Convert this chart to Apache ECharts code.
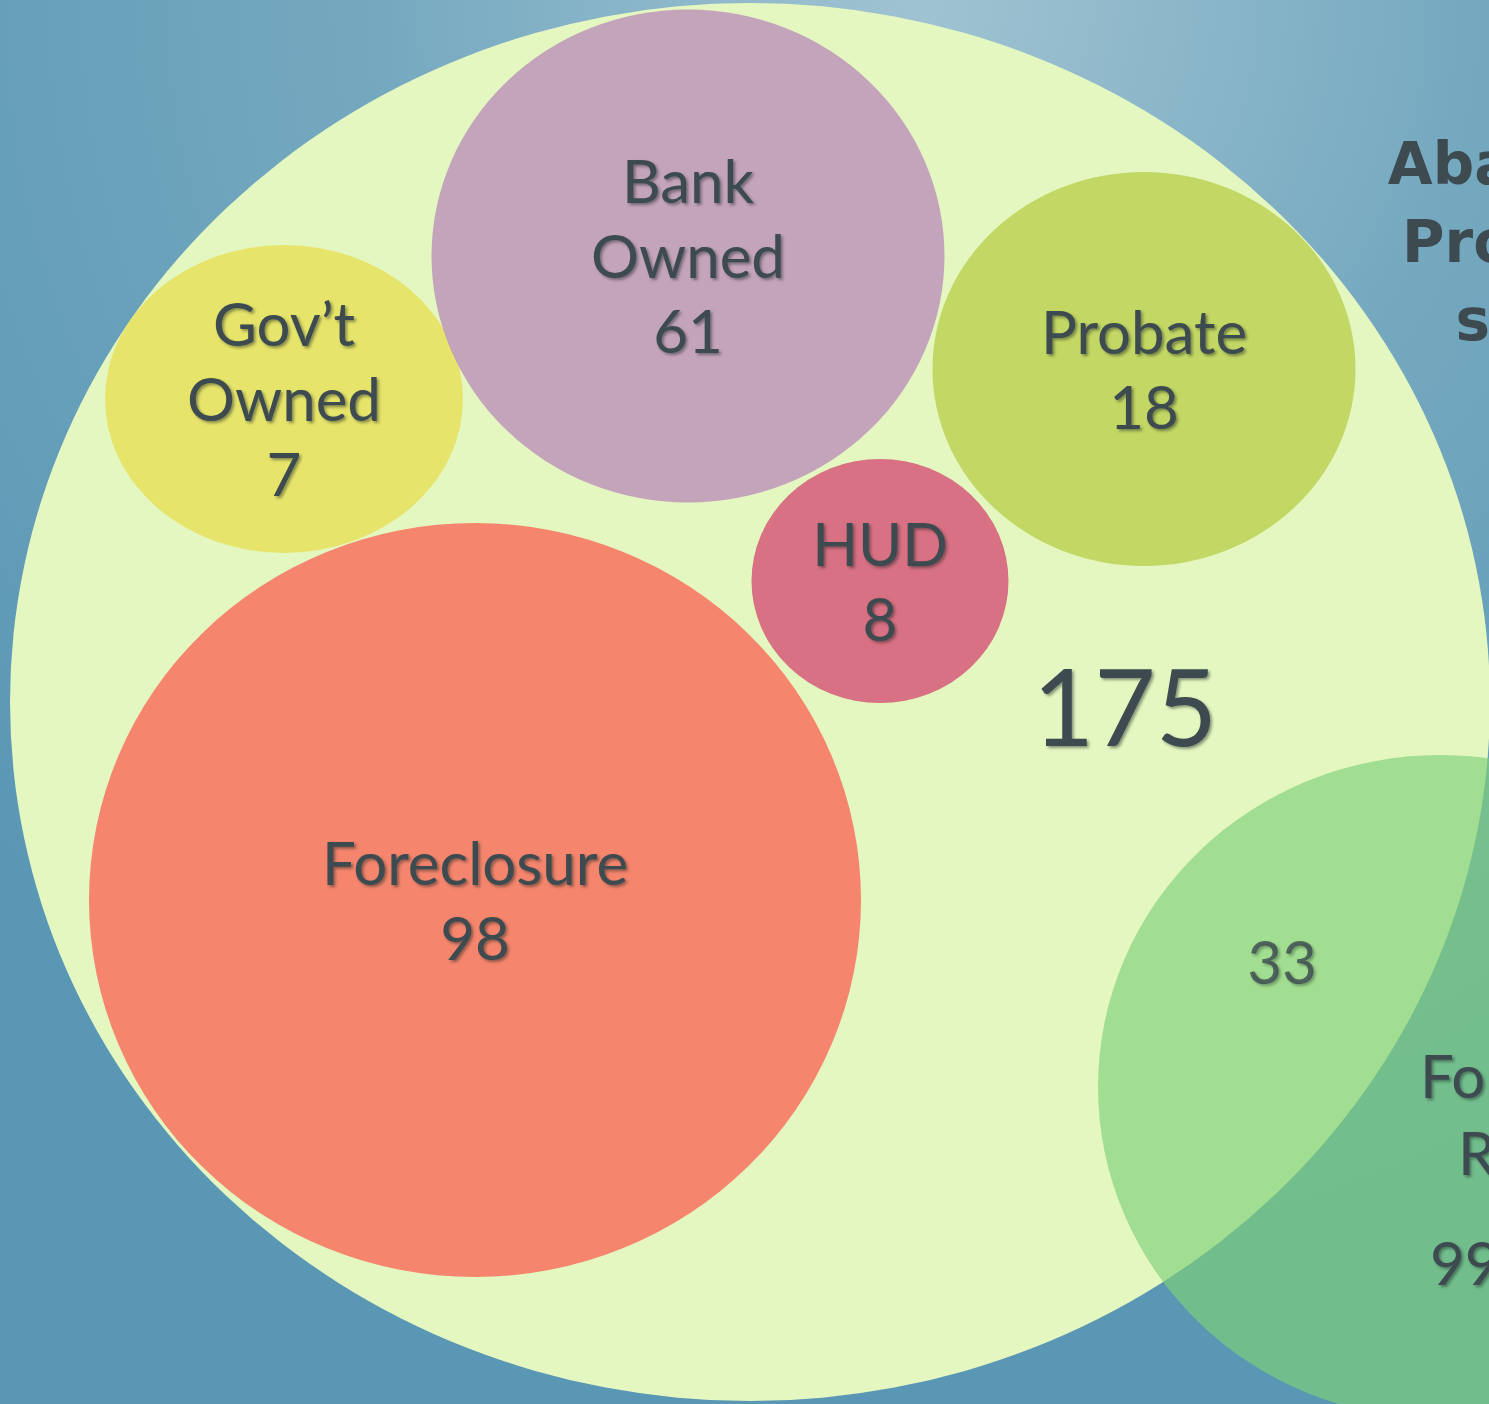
<!DOCTYPE html>
<html>
<head>
<meta charset="utf-8">
<title>Abandoned Properties sample</title>
<script src="https://cdn.jsdelivr.net/npm/echarts@6/dist/echarts.min.js"></script>
<style>
  html, body { margin: 0; padding: 0; background: #5e9ab6; }
  #chart { width: 1489px; height: 1404px; }
</style>
</head>
<body>
<div id="chart"></div>
<script>
// data
const sampleName = 'Abandoned Properties sample';
const sampleTotal = 175;
const categories = ['Gov\u2019t Owned', 'Bank Owned', 'Probate', 'HUD', 'Foreclosure'];
const categoryCounts = [7, 61, 18, 8, 98];
const registryName = 'Foreclosure Registry';
const registryCount = 99;
const overlapCount = 33;

// layout (axis units = pixels of the slide), sizes and colours
const sampleCenter = [750, 702];
const sampleSize = [1480, 1398];
const bubbleCenters = [[284, 399], [688, 256], [1144, 369], [880, 581], [475, 900]];
const bubbleSizes = [[358, 308], [513, 493], [423, 394], [257, 244], [772, 754]];
const bubbleColors = ['#e6e46a', '#c4a4bb', '#c3d764', '#d87183', '#f5866d'];
const registryCenter = [1440, 1087];
const registrySize = [684, 664];
const overlapLabelAt = [1282, 965];

const ellipse = 'path://M0 50A50 50 0 1 1 100 50A50 50 0 1 1 0 50Z';
const ink = '#3d4b51';
const shadow = {
  textShadowColor: 'rgba(20,30,30,0.45)',
  textShadowBlur: 3,
  textShadowOffsetX: 2,
  textShadowOffsetY: 2
};

let chart = echarts.init(document.getElementById('chart'));

chart.setOption({
  animation: false,
  backgroundColor: {
    type: 'radial', x: 0.62, y: 0, r: 0.9,
    colorStops: [
      {offset: 0, color: '#a0c3d2'},
      {offset: 0.45, color: '#74a8bf'},
      {offset: 1, color: '#5a97b4'}
    ]
  },
  grid: {left: 0, right: 0, top: 0, bottom: 0},
  xAxis: {type: 'value', min: 0, max: 1489, show: false},
  yAxis: {type: 'value', min: 0, max: 1404, inverse: true, show: false},
  graphic: [{
    type: 'text',
    x: 1573,
    y: 130,
    z: 100,
    style: {
      text: sampleName.replace(' ', '\n').replace(' ', '\n'),
      fontFamily: '"DejaVu Sans"',
      fontWeight: 'bold',
      fontSize: 58,
      lineHeight: 78,
      fill: ink,
      align: 'center',
      verticalAlign: 'top'
    }
  }],
  series: [
    {
      // whole sample
      type: 'scatter',
      silent: true,
      clip: false,
      symbol: ellipse,
      symbolSize: sampleSize,
      itemStyle: {color: '#e5f7c1', opacity: 1},
      label: Object.assign({
        show: true,
        position: 'inside',
        offset: [375, 10],
        formatter: String(sampleTotal),
        fontFamily: 'Lato',
        fontSize: 106,
        color: ink
      }, shadow),
      data: [{name: sampleName, value: sampleCenter}]
    },
    {
      // owner types
      type: 'scatter',
      silent: true,
      clip: false,
      symbol: ellipse,
      itemStyle: {opacity: 1},
      label: Object.assign({
        show: true,
        position: 'inside',
        offset: [0, 3],
        fontFamily: 'Lato',
        fontSize: 60,
        lineHeight: 75,
        color: ink,
        formatter: p => p.name.replace(' ', '\n') + '\n' + p.data.count
      }, shadow),
      data: categories.map((c, i) => ({
        name: c,
        count: categoryCounts[i],
        value: bubbleCenters[i],
        symbolSize: bubbleSizes[i],
        itemStyle: {color: bubbleColors[i]}
      }))
    },
    {
      // registry, overlaps the sample
      type: 'scatter',
      silent: true,
      clip: false,
      symbol: ellipse,
      symbolSize: registrySize,
      itemStyle: {color: 'rgba(127,210,120,0.66)', opacity: 1},
      label: Object.assign({
        show: true,
        position: 'inside',
        align: 'left',
        offset: [-20, 69],
        fontFamily: 'Lato',
        fontSize: 60,
        color: ink,
        formatter: '{f|Foreclosure}\n{r|Registry}\n{n|' + registryCount + '}',
        rich: {
          f: {lineHeight: 77},
          r: {lineHeight: 77, padding: [0, 0, 0, 38]},
          n: {lineHeight: 77, padding: [66, 0, 0, 10]}
        }
      }, shadow),
      data: [{name: registryName, value: registryCenter}]
    },
    {
      // overlap count
      type: 'scatter',
      silent: true,
      clip: false,
      symbolSize: 0,
      label: Object.assign({
        show: true,
        position: 'inside',
        formatter: String(overlapCount),
        fontFamily: 'Lato',
        fontSize: 60,
        color: ink
      }, shadow),
      data: [{name: 'overlap', value: overlapLabelAt}]
    }
  ]
});
</script>
</body>
</html>
